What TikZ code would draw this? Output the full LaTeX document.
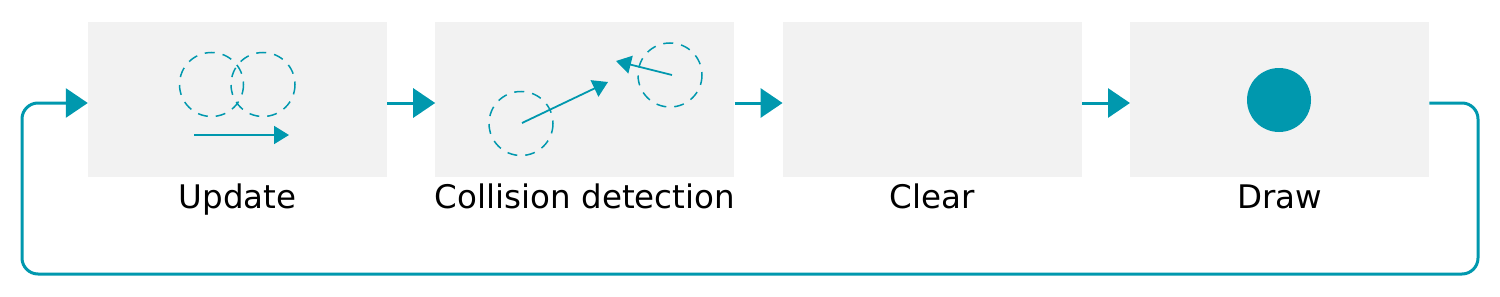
\documentclass[tikz,border=0pt]{standalone}
\usepackage{fontspec}
\setmainfont{DejaVu Sans}
\usetikzlibrary{positioning,arrows.meta}
\definecolor{loopTeal}{HTML}{0098AE}
\definecolor{stageGray}{HTML}{F2F2F2}

\begin{document}
\begin{tikzpicture}[x=1pt,y=-1pt,
    stage/.style={fill=stageGray,minimum width=299pt,minimum height=155pt,inner sep=0pt},
    caption/.style={inner sep=0pt,text height=24pt,text depth=7pt,font=\fontsize{32.5}{39}\selectfont},
    flow/.style={draw=loopTeal,line width=3pt,-{Triangle[length=22pt,width=29pt]}},
    ghost/.style={draw=loopTeal,line width=1.5pt,dash pattern=on 10pt off 8pt},
    motion/.style={draw=loopTeal,line width=1.8pt,-{Triangle[length=15pt,width=18pt]}}]
  \useasboundingbox (0,0) rectangle (1500,297);
  % the four stages of the loop
  \node[stage] (upd) at (237.5,99) {};
  \node[stage,right=48pt of upd] (coll) {};
  \node[stage,right=48pt of coll] (clr) {};
  \node[stage,right=48pt of clr] (drw) {};
  \node[caption,below=8pt of upd] (updtxt) {Update};
  \node[caption,below=8pt of coll] (colltxt) {Collision detection};
  \node[caption,below=8pt of clr] (clrtxt) {Clear};
  \node[caption,below=8pt of drw] (drwtxt) {Draw};
  % icons
  \draw[ghost] (211.5,84.5) circle (32);
  \draw[ghost] (263,84.5) circle (32);
  \draw[motion] (194,135) -- (289,135);
  \draw[ghost] (521,123.5) circle (32);
  \draw[ghost] (670,75) circle (32);
  \draw[motion] (522,123) -- (608,82);
  \draw[motion] (672,75) -- (616,61);
  \fill[loopTeal] (1279,100) circle (32);
  % connectors
  \foreach \a/\b in {upd/coll,coll/clr,clr/drw}
    \draw[flow] ([yshift=-4pt]\a.east) -- ([yshift=-4pt]\b.west);
  \coordinate (backR) at (1478,274);
  \coordinate (backL) at (22,274);
  \draw[flow,rounded corners=16pt] ([yshift=-4pt]drw.east) -| (backR) -- (backL) |- ([yshift=-4pt]upd.west);
\end{tikzpicture}
\end{document}
